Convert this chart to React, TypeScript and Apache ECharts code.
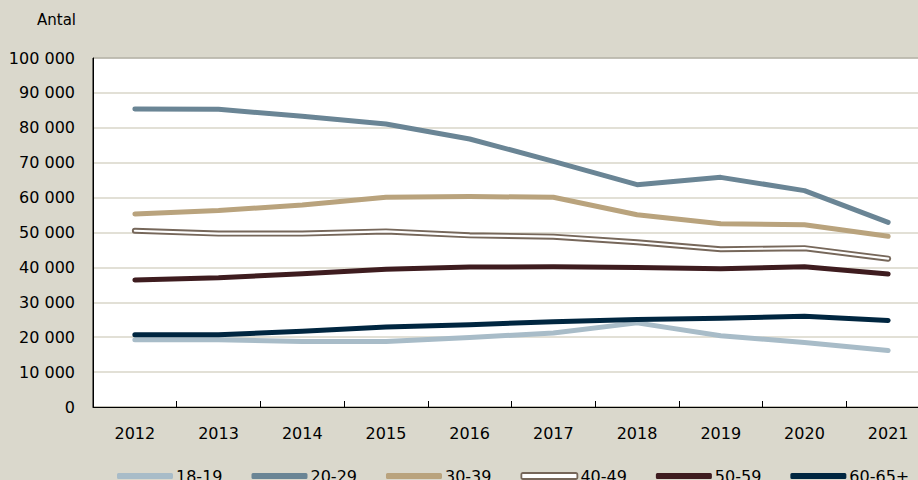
import React, { useEffect, useRef } from "react";
import * as echarts from "echarts";

const years = ["2012", "2013", "2014", "2015", "2016", "2017", "2018", "2019", "2020", "2021"];
const s1819 = [19300, 19300, 18800, 18800, 19900, 21200, 24100, 20400, 18500, 16200];
const s2029 = [85400, 85300, 83300, 81100, 76800, 70400, 63700, 65800, 62000, 52900];
const s3039 = [55300, 56300, 57900, 60100, 60300, 60100, 55100, 52500, 52200, 48900];
const s4049 = [50500, 49700, 49700, 50300, 49200, 48800, 47200, 45200, 45500, 42500];
const s5059 = [36400, 37000, 38200, 39500, 40100, 40200, 40000, 39600, 40200, 38100];
const s6065 = [20700, 20700, 21700, 22900, 23600, 24400, 25100, 25400, 26000, 24800];
const names = ["18-19", "20-29", "30-39", "40-49", "50-59", "60-65+"];
const colors = ["#a8bcc8", "#6a8595", "#b9a37d", "#76675a", "#3e1c1f", "#002640"];

const FONT = "DejaVu Sans";

export default function App() {
  const ref = useRef<HTMLDivElement>(null);
  useEffect(() => {
    if (!ref.current) return;
    const chart = echarts.init(ref.current, undefined, { renderer: "svg" });
    const all = [s1819, s2029, s3039, s4049, s5059, s6065];
    const series: any[] = [];
    all.forEach((d, i) => {
      series.push({
        name: names[i],
        type: "line",
        data: d,
        symbol: "none",
        lineStyle: { color: colors[i], width: i === 3 ? 6 : 5, cap: "round", join: "round" },
        itemStyle: { color: colors[i] },
        z: 2 + i,
      });
      if (i === 3) {
        series.push({
          name: "40-49-inner",
          type: "line",
          data: d,
          symbol: "none",
          silent: true,
          lineStyle: { color: "#ffffff", width: 2.2, cap: "round", join: "round" },
          z: 2 + i,
        });
      }
    });
    chart.setOption({
      animation: false,
      backgroundColor: "#dad8cc",
      textStyle: { fontFamily: FONT },
      graphic: [
        {
          type: "text",
          left: 37,
          top: 12,
          style: { text: "Antal", fontFamily: FONT, fontSize: 15, fill: "#000" },
        },
      ],
      grid: {
        left: 93,
        top: 58,
        width: 837,
        height: 349,
        show: true,
        backgroundColor: "#ffffff",
        borderColor: "#000",
        borderWidth: 1,
      },
      legend: {
        data: names.map((n, i) =>
          i === 3
            ? { name: n, itemStyle: { color: "#ffffff", borderColor: colors[3], borderWidth: 1.8 } }
            : { name: n }
        ),
        icon: "roundRect",
        itemWidth: 56,
        itemHeight: 6,
        itemGap: 29,
        left: 112,
        top: 463,
        textStyle: { fontFamily: FONT, fontSize: 16, color: "#000", padding: [0, 0, 0, -2] },
      },
      xAxis: {
        type: "category",
        data: years,
        boundaryGap: true,
        axisLine: { show: true, lineStyle: { color: "#000", width: 1 } },
        axisTick: { show: true, inside: true, length: 6, lineStyle: { color: "#000" } },
        axisLabel: { fontFamily: FONT, fontSize: 16, color: "#000", margin: 18 },
        splitLine: { show: false },
      },
      yAxis: {
        type: "value",
        min: 0,
        max: 100000,
        interval: 10000,
        axisLine: { show: true, lineStyle: { color: "#000" } },
        axisTick: { show: false },
        axisLabel: {
          fontFamily: FONT,
          fontSize: 16,
          color: "#000",
          margin: 18,
          formatter: (v: number) => {
            const s = String(Math.round(v));
            return s.replace(/\B(?=(\d{3})+(?!\d))/g, " ");
          },
        },
        splitLine: { show: true, lineStyle: { color: "#d9d6c9", width: 1.5 } },
      },
      series,
    });
    return () => chart.dispose();
  }, []);
  return (
    <div style={{ position: "absolute", left: 0, top: 0, width: 918, height: 480, overflow: "hidden" }}>
      <div ref={ref} style={{ width: 950, height: 480 }} />
    </div>
  );
}
